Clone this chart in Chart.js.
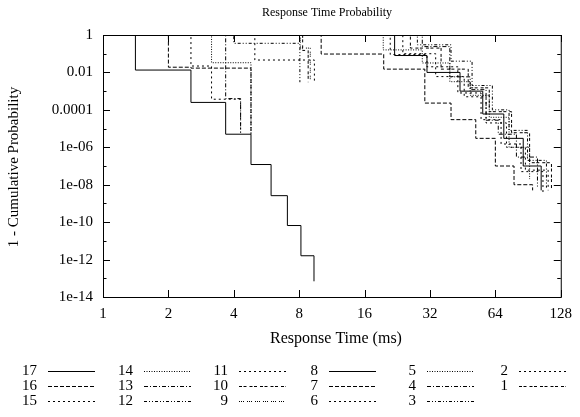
<!DOCTYPE html>
<html>
<head>
<meta charset="utf-8">
<script src="https://cdn.jsdelivr.net/npm/chart.js@4.4.0/dist/chart.umd.min.js"></script>
<style>
  html, body { margin: 0; padding: 0; background: #fff; }
  canvas { display: block; }
</style>
</head>
<body>
<canvas id="responseChart" width="580" height="417"></canvas>
<script>
// Series labels, in legend order
const seriesNames = ["17", "16", "15", "14", "13", "12", "11", "10", "9", "8", "7", "6", "5", "4", "3", "2", "1"];

// Each series: times (ms) where the curve steps down, and the value after the step
const t17 = [1.41, 2.54, 3.67, 4.8, 5.94, 7.06, 8.15, 9.36];
const p17 = [0.0134, 2.5e-4, 5e-6, 1.2e-7, 2.6e-9, 6.6e-11, 1.6e-12, 6.9e-14];
const t16 = [2.0, 2.54, 4.8];
const p16 = [0.019, 0.017, 5e-6];
const t15 = [2.54, 3.16, 4.3];
const p15 = [0.022, 3.7e-4, 6e-6];
const t14 = [3.16, 4.8];
const p14 = [0.033, 6e-6];
const t13 = [3.67, 4.3];
const p13 = [4e-4, 6e-6];
const t12 = [4.0, 8.06];
const p12 = [0.36, 0.003];
const t11 = [5.0, 9.4];
const p11 = [0.046, 0.003];
const t10 = [8.3, 8.8];
const p10 = [0.15, 0.003];
const t9 = [8.1, 9.0];
const p9 = [0.2, 0.004];
const t8 = [22, 31, 44, 56, 70, 86, 104];
const p8 = [0.08, 0.01, 1e-3, 6e-5, 3e-6, 1e-7, 5e-9];
const t7 = [10.1, 19.6, 30.3, 40, 52, 64, 78, 95];
const p7 = [0.096, 0.015, 2.3e-4, 3e-5, 3e-6, 1e-7, 1e-8, 5e-9];
const t6 = [21, 31, 43, 55, 68, 84, 106];
const p6 = [0.09, 0.02, 8e-4, 3e-5, 1.5e-6, 5e-8, 4e-9];
const t5 = [19.5, 29.5, 39.5, 49, 60, 74, 92];
const p5 = [0.16, 0.032, 0.0032, 6e-4, 4e-5, 1e-6, 2e-8];
const t4 = [29.5, 39.5, 49, 58, 66, 80, 100];
const p4 = [0.24, 0.0058, 0.0012, 2.8e-5, 5e-6, 3e-7, 8e-9];
const t3 = [28, 40, 50, 62, 74, 90, 110];
const p3 = [0.3, 0.04, 2e-3, 1e-4, 8e-6, 2e-7, 7e-9];
const t2 = [24, 34, 46, 58, 72, 88, 112];
const p2 = [0.1, 0.006, 5e-4, 2e-5, 1e-6, 6e-8, 5e-9];
const t1 = [26, 36, 48, 60, 76, 92, 116];
const p1 = [0.2, 0.015, 1.5e-3, 8e-5, 6e-6, 1.5e-7, 6e-9];

const seriesTimes = [t17, t16, t15, t14, t13, t12, t11, t10, t9, t8, t7, t6, t5, t4, t3, t2, t1];
const seriesProbs = [p17, p16, p15, p14, p13, p12, p11, p10, p9, p8, p7, p6, p5, p4, p3, p2, p1];

// Axis ticks
const xTicks = [1, 2, 4, 8, 16, 32, 64, 128];
const yTicks = [1, 1e-1, 1e-2, 1e-3, 1e-4, 1e-5, 1e-6, 1e-7, 1e-8, 1e-9, 1e-10, 1e-11, 1e-12, 1e-13, 1e-14];

// gnuplot style line types, repeating every 9 series
const dashStyles = [
  [],
  [4, 2],
  [2, 3],
  [1, 1.5],
  [4, 2, 1, 2],
  [3, 2, 1, 2, 1, 2],
  [2, 3],
  [3, 1.5, 3, 3],
  [1, 1, 1, 1, 1, 3]
];

const serif = "'Liberation Serif', 'DejaVu Serif', serif";

function yLabel(v) {
  const e = Math.round(Math.log10(v));
  if (e % 2 !== 0) return '';
  if (e === 0) return '1';
  if (e === -2) return '0.01';
  if (e === -4) return '0.0001';
  const n = -e;
  return '1e-' + (n < 10 ? '0' + n : n);
}

const datasets = seriesNames.map((name, i) => {
  const pts = [{ x: 1, y: 1 }];
  seriesTimes[i].forEach((t, k) => pts.push({ x: t, y: seriesProbs[i][k] }));
  return {
    label: name,
    data: pts,
    stepped: 'before',
    borderColor: '#000',
    borderWidth: 1,
    borderDash: dashStyles[i % 9],
    pointRadius: 0,
    fill: false
  };
});

// draws inward ticks, titles and the legend the way gnuplot lays them out
const gnuplotFrame = {
  id: 'gnuplotFrame',
  afterDraw(chart) {
    const ctx = chart.ctx;
    const a = chart.chartArea;
    const xs = chart.scales.x, ys = chart.scales.y;
    ctx.save();
    ctx.strokeStyle = '#000';
    ctx.lineWidth = 1;
    ctx.setLineDash([]);
    ctx.beginPath();
    xTicks.forEach(v => {
      const px = Math.round(xs.getPixelForValue(v)) + 0.5;
      ctx.moveTo(px, a.bottom); ctx.lineTo(px, a.bottom - 7);
      ctx.moveTo(px, a.top); ctx.lineTo(px, a.top + 7);
    });
    yTicks.forEach(v => {
      const e = Math.round(Math.log10(v));
      const len = e % 2 === 0 ? 7 : 3.5;
      const py = Math.round(ys.getPixelForValue(v)) + 0.5;
      ctx.moveTo(a.left, py); ctx.lineTo(a.left + len, py);
      ctx.moveTo(a.right, py); ctx.lineTo(a.right - len, py);
    });
    ctx.stroke();
    ctx.strokeRect(a.left + 0.5, a.top + 0.5, a.right - a.left, a.bottom - a.top);

    ctx.fillStyle = '#000';
    ctx.textAlign = 'center';
    ctx.textBaseline = 'middle';
    ctx.font = '12px ' + serif;
    ctx.fillText('Response Time Probability', 327, 13);
    ctx.font = '16px ' + serif;
    ctx.fillText('Response Time (ms)', 336, 339);
    ctx.font = '15px ' + serif;
    ctx.save();
    ctx.translate(14, 167);
    ctx.rotate(-Math.PI / 2);
    ctx.fillText('1 - Cumulative Probability', 0, 0);
    ctx.restore();

    // legend: 3 rows, column-major, label right-aligned before the sample
    const colLabelRight = [37, 133, 228, 318, 416, 508];
    const rowY = [371, 386, 401];
    chart.data.datasets.forEach((ds, i) => {
      const col = Math.floor(i / 3), row = i % 3;
      const y = rowY[row];
      const xr = colLabelRight[col];
      ctx.textAlign = 'right';
      ctx.fillText(ds.label, xr, y);
      ctx.beginPath();
      ctx.setLineDash(ds.borderDash);
      ctx.moveTo(xr + 11, y + 0.5);
      ctx.lineTo(xr + 58, y + 0.5);
      ctx.stroke();
    });
    ctx.restore();
  }
};

window.addEventListener('DOMContentLoaded', () => {
  new Chart(document.getElementById('responseChart'), {
    type: 'line',
    data: { datasets: datasets },
    options: {
      responsive: false,
      animation: false,
      devicePixelRatio: 1,
      layout: { padding: { top: 35, right: 12, left: 0, bottom: 0 } },
      plugins: { legend: { display: false }, title: { display: false }, tooltip: { enabled: false } },
      scales: {
        x: {
          type: 'logarithmic',
          min: 1,
          max: 128,
          afterFit: s => { s.height = 120; },
          afterBuildTicks: s => { s.ticks = xTicks.map(v => ({ value: v })); },
          grid: { display: false, drawTicks: false },
          border: { display: false },
          ticks: {
            autoSkip: false, maxRotation: 0, padding: 8, color: '#000',
            font: { family: serif, size: 15 },
            callback: v => String(v)
          }
        },
        y: {
          type: 'logarithmic',
          min: 1e-14,
          max: 1,
          afterFit: s => { s.width = 103; },
          afterBuildTicks: s => { s.ticks = yTicks.map(v => ({ value: v })); },
          grid: { display: false, drawTicks: false },
          border: { display: false },
          ticks: {
            autoSkip: false, padding: 10, color: '#000',
            font: { family: serif, size: 15 },
            callback: v => yLabel(v)
          }
        }
      }
    },
    plugins: [gnuplotFrame]
  });
});
</script>
</body>
</html>
